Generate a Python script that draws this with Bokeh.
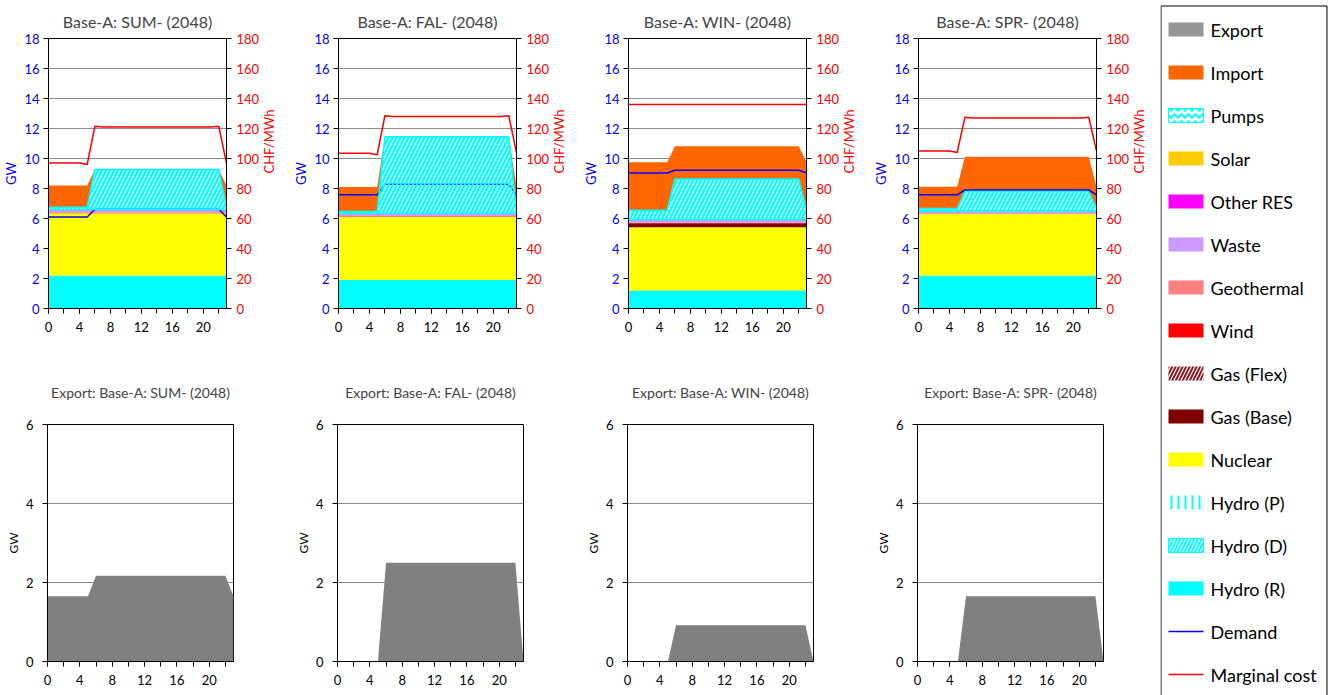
import math
from bokeh.plotting import figure
from bokeh.layouts import row, column
from bokeh.models import Range1d, LinearAxis, FixedTicker, ColumnDataSource
from bokeh.embed import file_html
from bokeh.resources import INLINE
from bokeh.core.properties import value
import numpy as np

FONT = "Lato"

# ---- axes ------------------------------------------------------------
HOURS = [0, 1, 2, 3, 4, 5, 6, 7, 8, 9, 10, 11, 12, 13, 14, 15, 16, 17, 18, 19, 20, 21, 22, 23]
X_TICKS = [0, 4, 8, 12, 16, 20]
X_MINOR = [0, 2, 4, 6, 8, 10, 12, 14, 16, 18, 20, 22]
GW_TICKS = [0, 2, 4, 6, 8, 10, 12, 14, 16, 18]
COST_TICKS = [0, 20, 40, 60, 80, 100, 120, 140, 160, 180]
EXPORT_TICKS = [0, 2, 4, 6]

SEASONS = ["SUM", "FAL", "WIN", "SPR"]

# ---- hourly generation stacks (GW) -----------------------------------
HYDRO_R_SUM = [2.2, 2.2, 2.2, 2.2, 2.2, 2.2, 2.2, 2.2, 2.2, 2.2, 2.2, 2.2, 2.2, 2.2, 2.2, 2.2, 2.2, 2.2, 2.2, 2.2, 2.2, 2.2, 2.2, 2.2]
NUCLEAR_SUM = [4.15, 4.15, 4.15, 4.15, 4.15, 4.15, 4.15, 4.15, 4.15, 4.15, 4.15, 4.15, 4.15, 4.15, 4.15, 4.15, 4.15, 4.15, 4.15, 4.15, 4.15, 4.15, 4.15, 4.15]
GAS_BASE_SUM = [0, 0, 0, 0, 0, 0, 0, 0, 0, 0, 0, 0, 0, 0, 0, 0, 0, 0, 0, 0, 0, 0, 0, 0]
WIND_SUM = [0.03, 0.03, 0.03, 0.03, 0.03, 0.03, 0.03, 0.03, 0.03, 0.03, 0.03, 0.03, 0.03, 0.03, 0.03, 0.03, 0.03, 0.03, 0.03, 0.03, 0.03, 0.03, 0.03, 0.03]
GEO_SUM = [0.04, 0.04, 0.04, 0.04, 0.04, 0.04, 0.04, 0.04, 0.04, 0.04, 0.04, 0.04, 0.04, 0.04, 0.04, 0.04, 0.04, 0.04, 0.04, 0.04, 0.04, 0.04, 0.04, 0.04]
WASTE_SUM = [0.18, 0.18, 0.18, 0.18, 0.18, 0.18, 0.18, 0.18, 0.18, 0.18, 0.18, 0.18, 0.18, 0.18, 0.18, 0.18, 0.18, 0.18, 0.18, 0.18, 0.18, 0.18, 0.18, 0.18]
HYDRO_D_SUM = [0.15, 0.15, 0.15, 0.15, 0.15, 0.15, 2.67, 2.67, 2.67, 2.67, 2.67, 2.67, 2.67, 2.67, 2.67, 2.67, 2.67, 2.67, 2.67, 2.67, 2.67, 2.67, 2.67, 0.15]
IMPORT_SUM = [1.45, 1.45, 1.45, 1.45, 1.45, 1.45, 0, 0, 0, 0, 0, 0, 0, 0, 0, 0, 0, 0, 0, 0, 0, 0, 0, 1.45]
DEMAND_SUM = [6.1, 6.1, 6.1, 6.1, 6.1, 6.1, 6.62, 6.62, 6.62, 6.62, 6.62, 6.62, 6.62, 6.62, 6.62, 6.62, 6.62, 6.62, 6.62, 6.62, 6.62, 6.62, 6.62, 6.1]
MCOST_SUM = [97, 97, 97, 97, 97, 96, 121.5, 121, 121, 121, 121, 121, 121, 121, 121, 121, 121, 121, 121, 121, 121, 121, 121.5, 97]
EXPORT_SUM = [1.65, 1.65, 1.65, 1.65, 1.65, 1.65, 2.17, 2.17, 2.17, 2.17, 2.17, 2.17, 2.17, 2.17, 2.17, 2.17, 2.17, 2.17, 2.17, 2.17, 2.17, 2.17, 2.17, 1.65]

HYDRO_R_FAL = [1.9, 1.9, 1.9, 1.9, 1.9, 1.9, 1.9, 1.9, 1.9, 1.9, 1.9, 1.9, 1.9, 1.9, 1.9, 1.9, 1.9, 1.9, 1.9, 1.9, 1.9, 1.9, 1.9, 1.9]
NUCLEAR_FAL = [4.2, 4.2, 4.2, 4.2, 4.2, 4.2, 4.2, 4.2, 4.2, 4.2, 4.2, 4.2, 4.2, 4.2, 4.2, 4.2, 4.2, 4.2, 4.2, 4.2, 4.2, 4.2, 4.2, 4.2]
GAS_BASE_FAL = [0, 0, 0, 0, 0, 0, 0, 0, 0, 0, 0, 0, 0, 0, 0, 0, 0, 0, 0, 0, 0, 0, 0, 0]
WIND_FAL = [0.03, 0.03, 0.03, 0.03, 0.03, 0.03, 0.03, 0.03, 0.03, 0.03, 0.03, 0.03, 0.03, 0.03, 0.03, 0.03, 0.03, 0.03, 0.03, 0.03, 0.03, 0.03, 0.03, 0.03]
GEO_FAL = [0.04, 0.04, 0.04, 0.04, 0.04, 0.04, 0.04, 0.04, 0.04, 0.04, 0.04, 0.04, 0.04, 0.04, 0.04, 0.04, 0.04, 0.04, 0.04, 0.04, 0.04, 0.04, 0.04, 0.04]
WASTE_FAL = [0.18, 0.18, 0.18, 0.18, 0.18, 0.18, 0.18, 0.18, 0.18, 0.18, 0.18, 0.18, 0.18, 0.18, 0.18, 0.18, 0.18, 0.18, 0.18, 0.18, 0.18, 0.18, 0.18, 0.18]
HYDRO_D_FAL = [0.12, 0.12, 0.12, 0.12, 0.12, 0.12, 5.1, 5.1, 5.1, 5.1, 5.1, 5.1, 5.1, 5.1, 5.1, 5.1, 5.1, 5.1, 5.1, 5.1, 5.1, 5.1, 5.1, 0.12]
IMPORT_FAL = [1.63, 1.63, 1.63, 1.63, 1.63, 1.63, 0, 0, 0, 0, 0, 0, 0, 0, 0, 0, 0, 0, 0, 0, 0, 0, 0, 1.63]
DEMAND_FAL = [7.58, 7.58, 7.58, 7.58, 7.58, 7.58, 8.28, 8.28, 8.28, 8.28, 8.28, 8.28, 8.28, 8.28, 8.28, 8.28, 8.28, 8.28, 8.28, 8.28, 8.28, 8.28, 8.28, 7.58]
MCOST_FAL = [103.5, 103.5, 103.5, 103.5, 103.5, 102.5, 128.5, 128, 128, 128, 128, 128, 128, 128, 128, 128, 128, 128, 128, 128, 128, 128, 128.5, 104]
EXPORT_FAL = [0, 0, 0, 0, 0, 0, 2.5, 2.5, 2.5, 2.5, 2.5, 2.5, 2.5, 2.5, 2.5, 2.5, 2.5, 2.5, 2.5, 2.5, 2.5, 2.5, 2.5, 0]

HYDRO_R_WIN = [1.2, 1.2, 1.2, 1.2, 1.2, 1.2, 1.2, 1.2, 1.2, 1.2, 1.2, 1.2, 1.2, 1.2, 1.2, 1.2, 1.2, 1.2, 1.2, 1.2, 1.2, 1.2, 1.2, 1.2]
NUCLEAR_WIN = [4.22, 4.22, 4.22, 4.22, 4.22, 4.22, 4.22, 4.22, 4.22, 4.22, 4.22, 4.22, 4.22, 4.22, 4.22, 4.22, 4.22, 4.22, 4.22, 4.22, 4.22, 4.22, 4.22, 4.22]
GAS_BASE_WIN = [0.27, 0.27, 0.27, 0.27, 0.27, 0.27, 0.27, 0.27, 0.27, 0.27, 0.27, 0.27, 0.27, 0.27, 0.27, 0.27, 0.27, 0.27, 0.27, 0.27, 0.27, 0.27, 0.27, 0.27]
WIND_WIN = [0.02, 0.02, 0.02, 0.02, 0.02, 0.02, 0.02, 0.02, 0.02, 0.02, 0.02, 0.02, 0.02, 0.02, 0.02, 0.02, 0.02, 0.02, 0.02, 0.02, 0.02, 0.02, 0.02, 0.02]
GEO_WIN = [0.03, 0.03, 0.03, 0.03, 0.03, 0.03, 0.03, 0.03, 0.03, 0.03, 0.03, 0.03, 0.03, 0.03, 0.03, 0.03, 0.03, 0.03, 0.03, 0.03, 0.03, 0.03, 0.03, 0.03]
WASTE_WIN = [0.2, 0.2, 0.2, 0.2, 0.2, 0.2, 0.2, 0.2, 0.2, 0.2, 0.2, 0.2, 0.2, 0.2, 0.2, 0.2, 0.2, 0.2, 0.2, 0.2, 0.2, 0.2, 0.2, 0.2]
HYDRO_D_WIN = [0.61, 0.61, 0.61, 0.61, 0.61, 0.61, 2.69, 2.69, 2.69, 2.69, 2.69, 2.69, 2.69, 2.69, 2.69, 2.69, 2.69, 2.69, 2.69, 2.69, 2.69, 2.69, 2.69, 0.61]
IMPORT_WIN = [3.2, 3.2, 3.2, 3.2, 3.2, 3.2, 2.19, 2.19, 2.19, 2.19, 2.19, 2.19, 2.19, 2.19, 2.19, 2.19, 2.19, 2.19, 2.19, 2.19, 2.19, 2.19, 2.19, 3.2]
DEMAND_WIN = [9.03, 9.03, 9.03, 9.03, 9.03, 9.03, 9.22, 9.22, 9.22, 9.22, 9.22, 9.22, 9.22, 9.22, 9.22, 9.22, 9.22, 9.22, 9.22, 9.22, 9.22, 9.22, 9.22, 9.03]
MCOST_WIN = [136, 136, 136, 136, 136, 136, 136, 136, 136, 136, 136, 136, 136, 136, 136, 136, 136, 136, 136, 136, 136, 136, 136, 136]
EXPORT_WIN = [0, 0, 0, 0, 0, 0, 0.92, 0.92, 0.92, 0.92, 0.92, 0.92, 0.92, 0.92, 0.92, 0.92, 0.92, 0.92, 0.92, 0.92, 0.92, 0.92, 0.92, 0]

HYDRO_R_SPR = [2.2, 2.2, 2.2, 2.2, 2.2, 2.2, 2.2, 2.2, 2.2, 2.2, 2.2, 2.2, 2.2, 2.2, 2.2, 2.2, 2.2, 2.2, 2.2, 2.2, 2.2, 2.2, 2.2, 2.2]
NUCLEAR_SPR = [4.1, 4.1, 4.1, 4.1, 4.1, 4.1, 4.1, 4.1, 4.1, 4.1, 4.1, 4.1, 4.1, 4.1, 4.1, 4.1, 4.1, 4.1, 4.1, 4.1, 4.1, 4.1, 4.1, 4.1]
GAS_BASE_SPR = [0, 0, 0, 0, 0, 0, 0, 0, 0, 0, 0, 0, 0, 0, 0, 0, 0, 0, 0, 0, 0, 0, 0, 0]
WIND_SPR = [0.02, 0.02, 0.02, 0.02, 0.02, 0.02, 0.02, 0.02, 0.02, 0.02, 0.02, 0.02, 0.02, 0.02, 0.02, 0.02, 0.02, 0.02, 0.02, 0.02, 0.02, 0.02, 0.02, 0.02]
GEO_SPR = [0.03, 0.03, 0.03, 0.03, 0.03, 0.03, 0.03, 0.03, 0.03, 0.03, 0.03, 0.03, 0.03, 0.03, 0.03, 0.03, 0.03, 0.03, 0.03, 0.03, 0.03, 0.03, 0.03, 0.03]
WASTE_SPR = [0.15, 0.15, 0.15, 0.15, 0.15, 0.15, 0.15, 0.15, 0.15, 0.15, 0.15, 0.15, 0.15, 0.15, 0.15, 0.15, 0.15, 0.15, 0.15, 0.15, 0.15, 0.15, 0.15, 0.15]
HYDRO_D_SPR = [0.17, 0.17, 0.17, 0.17, 0.17, 0.17, 1.3, 1.3, 1.3, 1.3, 1.3, 1.3, 1.3, 1.3, 1.3, 1.3, 1.3, 1.3, 1.3, 1.3, 1.3, 1.3, 1.3, 0.17]
IMPORT_SPR = [1.45, 1.45, 1.45, 1.45, 1.45, 1.45, 2.32, 2.32, 2.32, 2.32, 2.32, 2.32, 2.32, 2.32, 2.32, 2.32, 2.32, 2.32, 2.32, 2.32, 2.32, 2.32, 2.32, 1.45]
DEMAND_SPR = [7.58, 7.58, 7.58, 7.58, 7.58, 7.58, 7.9, 7.9, 7.9, 7.9, 7.9, 7.9, 7.9, 7.9, 7.9, 7.9, 7.9, 7.9, 7.9, 7.9, 7.9, 7.9, 7.9, 7.58]
MCOST_SPR = [105, 105, 105, 105, 105, 104, 127.5, 127, 127, 127, 127, 127, 127, 127, 127, 127, 127, 127, 127, 127, 127, 127, 127.5, 105]
EXPORT_SPR = [0, 0, 0, 0, 0, 0, 1.65, 1.65, 1.65, 1.65, 1.65, 1.65, 1.65, 1.65, 1.65, 1.65, 1.65, 1.65, 1.65, 1.65, 1.65, 1.65, 1.65, 0]

# ---- legend -----------------------------------------------------------
AREA_NAMES = ["Export", "Import", "Pumps", "Solar", "Other RES", "Waste", "Geothermal", "Wind",
              "Gas (Flex)", "Gas (Base)", "Nuclear", "Hydro (P)", "Hydro (D)", "Hydro (R)"]
LINE_NAMES = ["Demand", "Marginal cost"]

COLORS = {
    "Export": "#808080", "Import": "#FF6600", "Pumps": "#00FFFF", "Solar": "#FFCC00",
    "Other RES": "#FF00FF", "Waste": "#CC99FF", "Geothermal": "#FF8080", "Wind": "#FF0000",
    "Gas (Flex)": "#8B1A1A", "Gas (Base)": "#800000", "Nuclear": "#FFFF00",
    "Hydro (P)": "#00FFFF", "Hydro (D)": "#00FFFF", "Hydro (R)": "#00FFFF",
    "Demand": "#0000FF", "Marginal cost": "#FF0000",
}
HATCHES = {"Pumps": "horizontal_wave", "Gas (Flex)": "right_diagonal_line",
           "Hydro (P)": "vertical_line", "Hydro (D)": "right_diagonal_line"}


def style_axis(ax, color, size="13px"):
    ax.major_label_text_font = FONT
    ax.major_label_text_font_size = size
    ax.major_label_text_color = color
    ax.axis_label_text_font = FONT
    ax.axis_label_text_font_size = size
    ax.axis_label_text_font_style = "normal"
    ax.axis_label_text_color = color
    ax.axis_line_color = "black"
    ax.major_tick_line_color = "black"
    ax.major_tick_in = 0
    ax.major_tick_out = 5
    ax.minor_tick_in = 0
    ax.minor_tick_out = 5
    ax.minor_tick_line_color = "black"


def set_x_axis(p):
    p.xaxis.ticker = FixedTicker(ticks=X_TICKS, minor_ticks=X_MINOR)
    style_axis(p.xaxis[0], "black")
    p.xaxis.major_label_standoff = 8
    p.xgrid.visible = False


def top_chart(season, hydro_r, nuclear, gas_base, wind, geo, waste, hydro_d, imp, demand, mcost):
    p = figure(width=290, height=350, output_backend="svg", toolbar_location=None,
               x_range=Range1d(0, 23), y_range=Range1d(0, 18),
               min_border_left=47, min_border_right=64, min_border_top=38, min_border_bottom=42,
               title=f"Base-A: {season}- (2048)")
    p.title.align = "center"
    p.title.text_font = FONT
    p.title.text_font_size = "16px"
    p.title.text_font_style = "normal"
    p.title.text_line_height = 1.0
    p.title.standoff = 16
    p.outline_line_color = "black"
    p.background_fill_color = "white"

    set_x_axis(p)
    p.yaxis.ticker = FixedTicker(ticks=GW_TICKS, minor_ticks=[])
    p.ygrid.ticker = FixedTicker(ticks=GW_TICKS, minor_ticks=[])
    p.ygrid.grid_line_color = "#8C8C8C"
    p.yaxis.axis_label = "GW"
    style_axis(p.yaxis[0], "#0000FF")
    p.yaxis.major_label_standoff = 4
    p.yaxis.axis_label_standoff = 2

    p.extra_y_ranges = {"cost": Range1d(0, 180)}
    cost_axis = LinearAxis(y_range_name="cost", ticker=FixedTicker(ticks=COST_TICKS, minor_ticks=[]),
                           axis_label="CHF/MWh")
    style_axis(cost_axis, "#FF0000")
    cost_axis.major_label_standoff = 5
    cost_axis.axis_label_standoff = 7
    if "axis_label_orientation" in cost_axis.properties():
        cost_axis.axis_label_orientation = math.pi / 2
    p.add_layout(cost_axis, "right")

    # stacked solid layers
    base = np.zeros(len(HOURS))
    for vals, name in [(hydro_r, "Hydro (R)"), (nuclear, "Nuclear"), (gas_base, "Gas (Base)"),
                       (wind, "Wind"), (geo, "Geothermal"), (waste, "Waste")]:
        top = base + np.array(vals, dtype=float)
        p.varea(x=HOURS, y1=base, y2=top, fill_color=COLORS[name])
        base = top
    d_bottom = base
    d_top = base + np.array(hydro_d, dtype=float)
    imp_top = d_top + np.array(imp, dtype=float)
    p.varea(x=HOURS, y1=d_top, y2=imp_top, fill_color=COLORS["Import"])

    # hatched dispatchable hydro, demand line runs beneath the stripes
    p.varea(x=HOURS, y1=d_bottom, y2=d_top, fill_color="white")
    p.line(x=HOURS, y=demand, line_color=COLORS["Demand"], line_width=1.5)
    p.varea(x=HOURS, y1=d_bottom, y2=d_top, fill_alpha=0, hatch_pattern="right_diagonal_line",
            hatch_color=COLORS["Hydro (D)"], hatch_scale=8, hatch_weight=2.5)
    p.patch(x=HOURS + HOURS[::-1], y=list(d_top) + list(d_bottom[::-1]), fill_alpha=0,
            line_color=COLORS["Hydro (D)"], line_width=1.5)

    p.line(x=HOURS, y=mcost, y_range_name="cost", line_color=COLORS["Marginal cost"], line_width=1.5)
    return p


def export_chart(season, export):
    p = figure(width=290, height=345, output_backend="svg", toolbar_location=None,
               x_range=Range1d(0, 23), y_range=Range1d(0, 6),
               min_border_left=47, min_border_right=57, min_border_top=74, min_border_bottom=34,
               title=f"Export: Base-A: {season}- (2048)")
    p.title.align = "center"
    p.title.text_font = FONT
    p.title.text_font_size = "14px"
    p.title.text_font_style = "normal"
    p.title.standoff = 48
    p.outline_line_color = "black"

    set_x_axis(p)
    p.yaxis.ticker = FixedTicker(ticks=EXPORT_TICKS, minor_ticks=[])
    p.ygrid.ticker = FixedTicker(ticks=EXPORT_TICKS, minor_ticks=[])
    p.ygrid.grid_line_color = "#8C8C8C"
    p.yaxis.axis_label = "GW"
    style_axis(p.yaxis[0], "black")
    p.yaxis.axis_label_text_font_size = "12px"
    p.yaxis.major_label_standoff = 9
    p.yaxis.axis_label_standoff = 2

    p.varea(x=HOURS, y1=0, y2=export, fill_color=COLORS["Export"])
    return p


def legend_panel():
    lg = figure(width=181, height=695, output_backend="svg", toolbar_location=None,
                x_range=Range1d(0, 181), y_range=Range1d(695, 0),
                x_axis_type=None, y_axis_type=None, min_border=0)
    lg.outline_line_color = None
    lg.grid.visible = False
    lg.quad(left=[0.5], right=[166.5], top=[5.5], bottom=[720], fill_color=None,
            line_color="black", line_width=1)

    names = AREA_NAMES + LINE_NAMES
    ys = [29 + 43 * i for i in range(len(names))]
    n_area = len(AREA_NAMES)

    fills, hatches, lines = [], [], []
    for n in AREA_NAMES:
        if n in HATCHES:
            fills.append("white")
            hatches.append(HATCHES[n])
        else:
            fills.append("#969696" if n == "Export" else COLORS[n])
            hatches.append("blank")
        lines.append(COLORS[n] if n in ("Pumps", "Hydro (D)") else None)
    src = ColumnDataSource(dict(y=ys[:n_area], fill=fills, hatch=hatches,
                                hcol=[COLORS[n] for n in AREA_NAMES], line=lines))
    lg.rect(x=25.5, y="y", width=35, height=14, source=src, fill_color="fill",
            hatch_pattern="hatch", hatch_color="hcol", hatch_scale=7, hatch_weight=2,
            line_color="line", line_width=1)
    lg.segment(x0=8, x1=43, y0=ys[n_area:], y1=ys[n_area:],
               line_color=[COLORS[n] for n in LINE_NAMES], line_width=1.5)
    lg.text(x=50, y=ys, text=names, text_font=value(FONT), text_font_size="18px",
            text_baseline="middle", text_color="black")
    return lg


tops = [
    top_chart("SUM", HYDRO_R_SUM, NUCLEAR_SUM, GAS_BASE_SUM, WIND_SUM, GEO_SUM, WASTE_SUM,
              HYDRO_D_SUM, IMPORT_SUM, DEMAND_SUM, MCOST_SUM),
    top_chart("FAL", HYDRO_R_FAL, NUCLEAR_FAL, GAS_BASE_FAL, WIND_FAL, GEO_FAL, WASTE_FAL,
              HYDRO_D_FAL, IMPORT_FAL, DEMAND_FAL, MCOST_FAL),
    top_chart("WIN", HYDRO_R_WIN, NUCLEAR_WIN, GAS_BASE_WIN, WIND_WIN, GEO_WIN, WASTE_WIN,
              HYDRO_D_WIN, IMPORT_WIN, DEMAND_WIN, MCOST_WIN),
    top_chart("SPR", HYDRO_R_SPR, NUCLEAR_SPR, GAS_BASE_SPR, WIND_SPR, GEO_SPR, WASTE_SPR,
              HYDRO_D_SPR, IMPORT_SPR, DEMAND_SPR, MCOST_SPR),
]
bottoms = [
    export_chart("SUM", EXPORT_SUM),
    export_chart("FAL", EXPORT_FAL),
    export_chart("WIN", EXPORT_WIN),
    export_chart("SPR", EXPORT_SPR),
]

layout = row(column(row(*tops), row(*bottoms)), legend_panel())

open("out.html", "w").write(file_html(layout, INLINE))
